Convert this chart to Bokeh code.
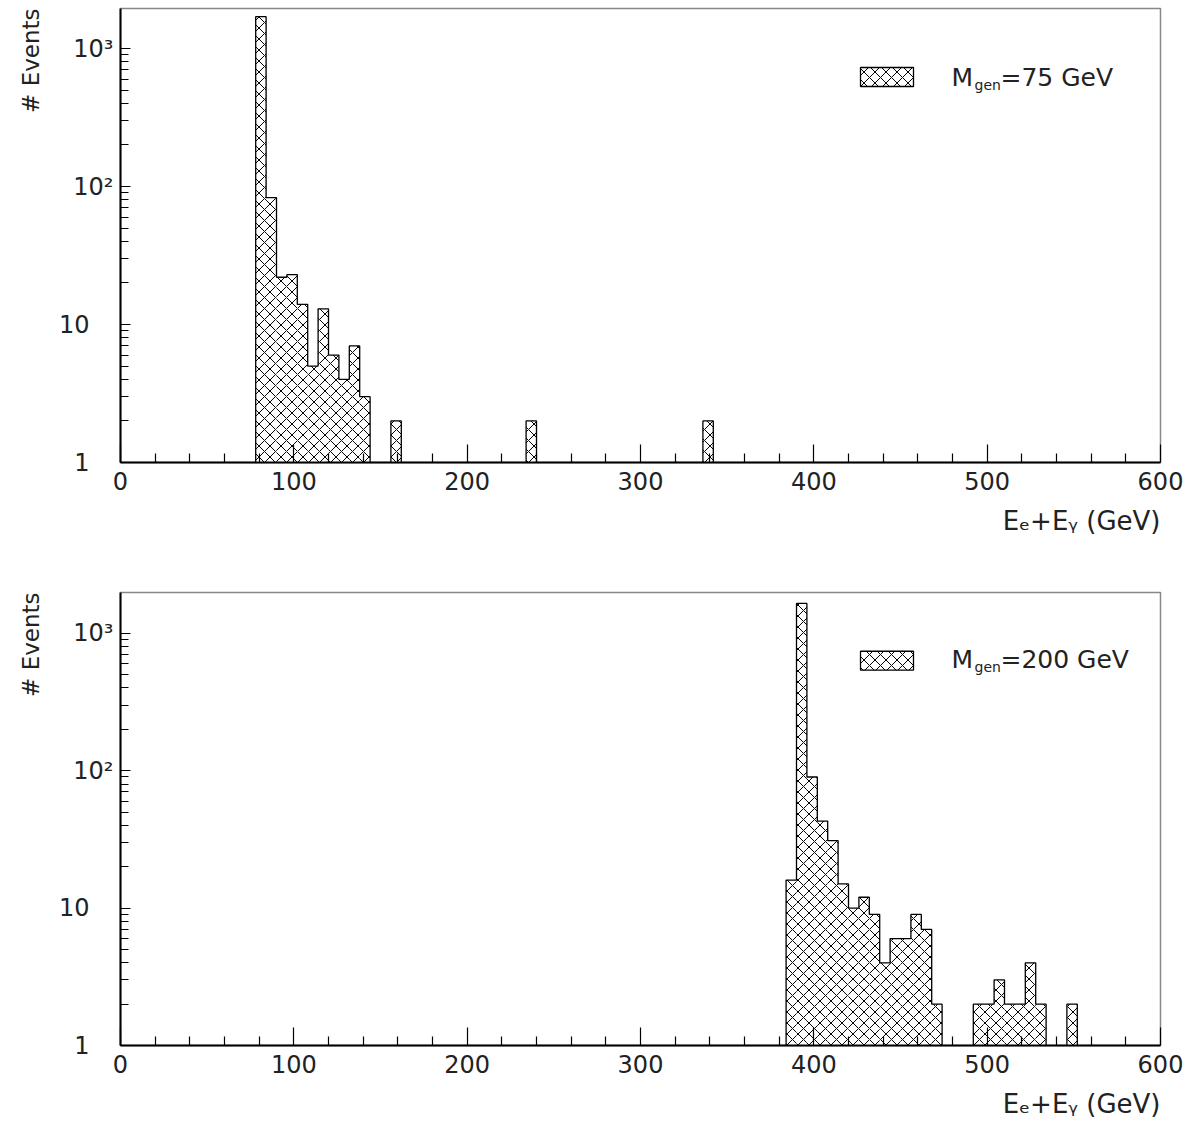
import math
from bokeh.plotting import figure
from bokeh.layouts import column
from bokeh.models import Range1d, FixedTicker, Label, BoxAnnotation, Title
from bokeh.embed import file_html
from bokeh.resources import INLINE

# ---------------- data ----------------
BIN_WIDTH = 6.0  # GeV
# lower bin edges (GeV) and event counts, M_gen = 75 GeV
m75_edges = [78, 84, 90, 96, 102, 108, 114, 120, 126, 132, 138, 156, 234, 336]
m75_counts = [1700, 83, 22, 23, 14, 5, 13, 6, 4, 7, 3, 2, 2, 2]
# lower bin edges (GeV) and event counts, M_gen = 200 GeV
m200_edges = [384, 390, 396, 402, 408, 414, 420, 426, 432, 438, 444, 450, 456,
              462, 468, 492, 498, 504, 510, 516, 522, 528, 546]
m200_counts = [16, 1650, 90, 43, 31, 15, 10, 12, 9, 4, 6, 6, 9,
               7, 2, 2, 2, 3, 2, 2, 4, 2, 2]

x_ticks = [0, 100, 200, 300, 400, 500, 600]
x_minor = [20, 40, 60, 80, 120, 140, 160, 180, 220, 240, 260, 280, 320, 340, 360,
           380, 420, 440, 460, 480, 520, 540, 560, 580]
y_ticks = [1, 10, 100, 1000]
y_tick_labels = ["1\u2003", "10\u2003", "10²", "10³"]
y_minor = [2, 3, 4, 5, 6, 7, 8, 9, 20, 30, 40, 50, 60, 70, 80, 90,
           200, 300, 400, 500, 600, 700, 800, 900, 2000]

x_title = "Eₑ+Eᵧ (GeV)"
y_title = "# Events"

panels = [
    dict(edges=m75_edges, counts=m75_counts, mass="75", h=555, top=8, fh=454),
    dict(edges=m200_edges, counts=m200_counts, mass="200", h=575, top=37, fh=455),
]

W = 1193
LEFT = 120
FW = 1040
PPD = 138.0  # pixels per decade
FONT = "DejaVu Sans"
TXT = "#222222"
HATCH = 11


def outline(edges, counts, w, base):
    segs_x, segs_y = [], []
    cx, cy = None, None
    prev_right = None
    for e, c in zip(edges, counts):
        if prev_right is None or abs(e - prev_right) > 1e-9:
            if cx is not None:
                cx.append(prev_right); cy.append(base)
                segs_x.append(cx); segs_y.append(cy)
            cx, cy = [e], [base]
        cx += [e, e + w]
        cy += [c, c]
        prev_right = e + w
    cx.append(prev_right); cy.append(base)
    segs_x.append(cx); segs_y.append(cy)
    return segs_x, segs_y


figs = []
for pan in panels:
    fb = pan["top"] + pan["fh"]  # frame bottom within figure
    ymax = 10 ** (pan["fh"] / PPD)
    p = figure(width=W, height=pan["h"], output_backend="svg", toolbar_location=None,
               x_range=Range1d(0, 600), y_range=Range1d(1, ymax), y_axis_type="log",
               min_border_left=LEFT, min_border_right=W - LEFT - FW,
               min_border_top=pan["top"], min_border_bottom=pan["h"] - fb)
    p.xgrid.visible = False
    p.ygrid.visible = False
    p.outline_line_color = "#888888"
    p.outline_line_width = 1.5
    p.background_fill_color = "white"
    p.border_fill_color = "white"

    # axes
    p.xaxis.ticker = FixedTicker(ticks=x_ticks, minor_ticks=x_minor)
    p.yaxis.ticker = FixedTicker(ticks=y_ticks, minor_ticks=y_minor)
    for ax in (p.xaxis, p.yaxis):
        ax.axis_line_color = "black"
        ax.axis_line_width = 2
        ax.major_tick_out = 0
        ax.minor_tick_out = 0
        ax.major_tick_line_color = "black"
        ax.minor_tick_line_color = "black"
        ax.major_tick_line_width = 1.2
        ax.minor_tick_line_width = 1.2
        ax.major_label_text_font = FONT
        ax.major_label_text_font_size = "24px"
        ax.major_label_text_color = TXT
    p.xaxis.major_tick_in = 18
    p.xaxis.minor_tick_in = 9
    p.xaxis.major_label_standoff = 9
    p.yaxis.major_tick_in = 10
    p.yaxis.minor_tick_in = 8
    p.yaxis.major_label_standoff = 7
    p.yaxis.major_label_overrides = {t: s for t, s in zip(y_ticks, y_tick_labels)}

    # axis titles
    p.add_layout(Title(text=x_title, align="right", text_font=FONT,
                       text_font_size="26px", text_font_style="normal",
                       text_color=TXT, standoff=23), "below")
    p.add_layout(Title(text=y_title, align="right", text_font=FONT,
                       text_font_size="23px", text_font_style="normal",
                       text_color=TXT, standoff=24), "left")

    # histogram
    edges = pan["edges"]
    counts = pan["counts"]
    p.quad(left=edges, right=[e + BIN_WIDTH for e in edges], top=counts,
           bottom=[1] * len(edges), fill_color="white", line_color=None,
           hatch_pattern="x", hatch_scale=HATCH, hatch_color="black", hatch_weight=1)
    sx, sy = outline(edges, counts, BIN_WIDTH, 1)
    p.multi_line(xs=sx, ys=sy, line_color="black", line_width=1.3)

    def txt(px, py, text, size, align="left", baseline="middle"):
        p.add_layout(Label(x=0, y=1, x_offset=px - LEFT, y_offset=fb - py, text=text,
                           text_align=align, text_baseline=baseline,
                           text_font=FONT, text_font_size=size, text_color=TXT))

    # legend
    def to_x(px):
        return (px - LEFT) * 600.0 / FW

    def to_y(py):
        return 10 ** ((fb - py) / PPD)

    ly0 = pan["top"] + 59
    ly1 = pan["top"] + 78
    p.add_layout(BoxAnnotation(left=to_x(860), right=to_x(913), top=to_y(ly0),
                               bottom=to_y(ly1), fill_color="white", fill_alpha=1,
                               line_color="black", line_width=1.3, line_alpha=1,
                               hatch_pattern="x", hatch_scale=HATCH, hatch_color="black",
                               hatch_weight=1, level="overlay"))
    lc = (ly0 + ly1) / 2
    txt(951, lc, "M", "25px")
    txt(974, lc + 8, "gen", "14px")
    txt(1000, lc, "=" + pan["mass"] + " GeV", "25px")

    figs.append(p)

layout = column(*figs, spacing=0)
open("out.html", "w").write(file_html(layout, INLINE))
